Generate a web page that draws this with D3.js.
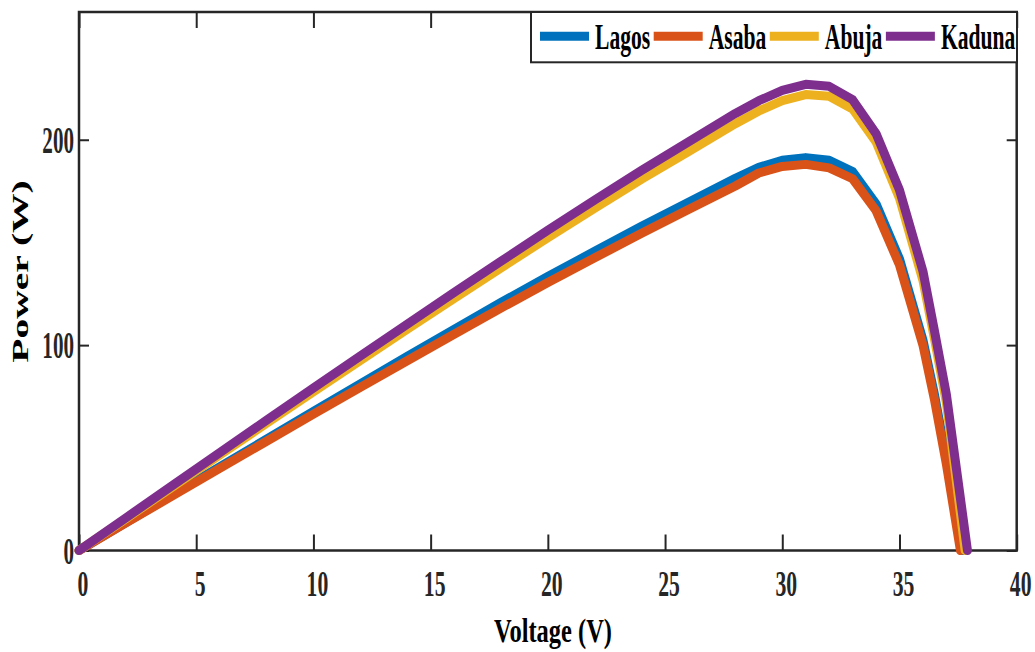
<!DOCTYPE html>
<html>
<head>
<meta charset="utf-8">
<script src="https://cdn.jsdelivr.net/npm/d3@7/dist/d3.min.js"></script>
<style>
  html, body { margin: 0; padding: 0; background: #ffffff; }
  svg { display: block; }
  text { font-family: "Liberation Serif", "Times New Roman", serif; font-weight: bold; }
</style>
</head>
<body>
<svg id="chart" width="1035" height="652"></svg>
<script>
// P-V characteristics of the PV module at four sites
const cityNames = ["Lagos", "Asaba", "Abuja", "Kaduna"];
const cityColors = ["#0072BD", "#D95319", "#EDB120", "#7E2F8E"];

// shared voltage samples (V)
const voltage = [0, 2, 4, 6, 8, 10, 12, 14, 16, 18, 20, 22, 24, 26, 28,
                 29, 30, 31, 32, 33, 34, 35, 36, 36.5, 37];

// power output (W) at each voltage sample
const lagosPower  = [0, 13.6, 27.2, 40.7, 54.2, 67.7, 81.1, 94.5, 107.7, 120.8, 133.4, 145.7, 157.9, 169.6, 181.2,
                     186.6, 190.0, 191.3, 190.0, 184.5, 168.8, 142.0, 102.5, 75.5, 44.5];
const asabaPower  = [0, 13.4, 26.7, 40.0, 53.2, 66.4, 79.4, 92.4, 105.3, 118.0, 130.5, 142.5, 154.5, 166.0, 177.5,
                     183.8, 187.0, 188.0, 186.3, 181.0, 165.5, 139.0, 100.0, 73.0, 42.0];
const abujaPower  = [0, 15.5, 31.0, 46.5, 61.9, 77.3, 92.5, 107.7, 122.7, 137.6, 152.3, 166.7, 180.8, 194.2, 207.8,
                     214.0, 219.0, 222.0, 221.2, 215.0, 199.0, 171.5, 131.5, 102.5, 72.0];
const kadunaPower = [0, 15.9, 31.8, 47.6, 63.4, 79.1, 94.7, 110.2, 125.6, 140.8, 155.9, 170.7, 185.1, 199.0, 212.8,
                     219.0, 224.0, 227.0, 226.0, 219.5, 203.0, 175.5, 136.0, 106.5, 76.0];

// open-circuit voltage (V) where each curve returns to zero power
const openCircuitVoltage = [37.7, 37.6, 37.8, 37.9];

// axis ticks
const xTicks = [0, 5, 10, 15, 20, 25, 30, 35, 40];
const yTicks = [0, 100, 200];

const powerSeries = [lagosPower, asabaPower, abujaPower, kadunaPower];

const svg = d3.select("#chart");
const ink = "#262626";

const x = d3.scaleLinear().domain([0, 40]).range([79, 1016.7]);
const y = d3.scaleLinear().domain([0, 262.2]).range([550.5, 12]);

// axes (ticks point inward, box style)
function styleTicks(g, len) {
  g.select(".domain").remove();
  g.selectAll(".tick line").attr("stroke", ink).attr("stroke-width", 2);
}

const gBottom = svg.append("g")
  .attr("transform", `translate(0,${y(0)})`)
  .call(d3.axisBottom(x).tickValues(xTicks).tickSize(-16).tickSizeOuter(0).tickFormat(d3.format("d")));
styleTicks(gBottom);
gBottom.selectAll(".tick text")
  .attr("y", null).attr("dy", null)
  .attr("fill", ink)
  .attr("font-size", 35)
  .attr("text-anchor", "middle")
  .attr("transform", "translate(3.5,45.5) scale(0.62,1)");

const gTop = svg.append("g")
  .attr("transform", `translate(0,${y.range()[1]})`)
  .call(d3.axisTop(x).tickValues(xTicks).tickSize(-16).tickSizeOuter(0).tickFormat(""));
styleTicks(gTop);

const gLeft = svg.append("g")
  .attr("transform", `translate(${x(0)},0)`)
  .call(d3.axisLeft(y).tickValues(yTicks).tickSize(-10).tickSizeOuter(0).tickFormat(d3.format("d")));
styleTicks(gLeft);
gLeft.selectAll(".tick text")
  .attr("x", null).attr("dy", null)
  .attr("fill", ink)
  .attr("font-size", 37)
  .attr("text-anchor", "end")
  .attr("transform", "translate(-5,12.5) scale(0.57,1)");

const gRight = svg.append("g")
  .attr("transform", `translate(${x.range()[1]},0)`)
  .call(d3.axisRight(y).tickValues(yTicks).tickSize(-10).tickSizeOuter(0).tickFormat(""));
styleTicks(gRight);

// axes box
svg.append("rect")
  .attr("x", x(0)).attr("y", y.range()[1])
  .attr("width", x.range()[1] - x(0))
  .attr("height", y(0) - y.range()[1])
  .attr("fill", "none").attr("stroke", ink).attr("stroke-width", 2.5);

// curves
const line = d3.line()
  .x(d => x(d[0]))
  .y(d => y(d[1]));

powerSeries.forEach((power, i) => {
  const pts = voltage.map((v, k) => [v, power[k]]);
  pts.push([openCircuitVoltage[i], 0]);
  svg.append("path")
    .datum(pts)
    .attr("d", line)
    .attr("fill", "none")
    .attr("stroke", cityColors[i])
    .attr("stroke-width", 9)
    .attr("stroke-linecap", "round")
    .attr("stroke-linejoin", "round");
});

// axis titles
svg.append("text")
  .attr("transform", "translate(553,642) scale(0.72,1)")
  .attr("text-anchor", "middle")
  .attr("font-size", 34)
  .attr("fill", "#000")
  .text("Voltage (V)");

svg.append("text")
  .attr("transform", "translate(27.5,271.5) rotate(-90) scale(1,0.56)")
  .attr("text-anchor", "middle")
  .attr("font-size", 39.5)
  .attr("fill", "#000")
  .text("Power (W)");

// legend
const legend = svg.append("g");
const legendBox = legend.append("rect")
  .attr("x", 531).attr("y", 12)
  .attr("width", 486).attr("height", 50.3)
  .attr("fill", "#ffffff").attr("stroke", ink).attr("stroke-width", 2);

const legendScaleX = 0.6;
let cursor = 540;
cityNames.forEach((name, i) => {
  legend.append("line")
    .attr("x1", cursor).attr("x2", cursor + 49)
    .attr("y1", 36.2).attr("y2", 36.2)
    .attr("stroke", cityColors[i]).attr("stroke-width", 9);
  const tx = cursor + 55;
  const t = legend.append("text")
    .attr("transform", `translate(${tx},49.3) scale(${legendScaleX},1)`)
    .attr("font-size", 36)
    .attr("fill", "#000")
    .text(name);
  const w = t.node().getComputedTextLength() * legendScaleX;
  cursor = tx + w + 3.5;
});
</script>
</body>
</html>
